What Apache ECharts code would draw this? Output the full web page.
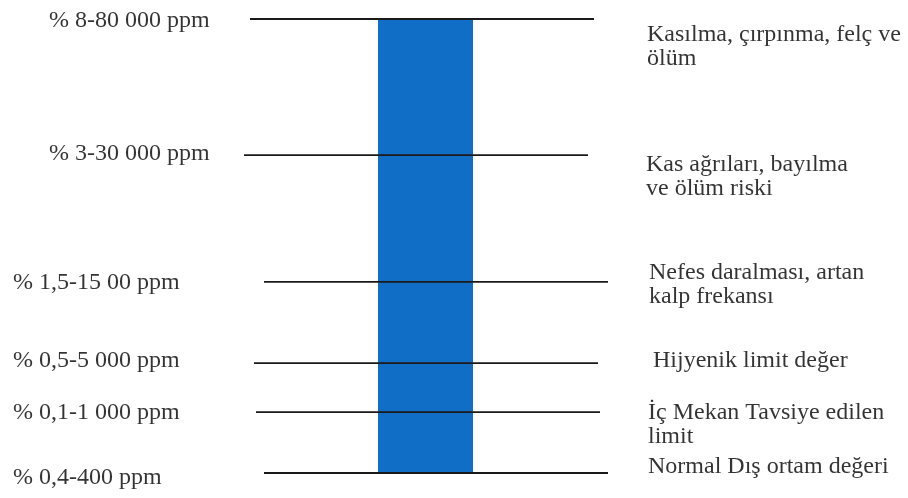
<!DOCTYPE html>
<html>
<head>
<meta charset="utf-8">
<script src="https://cdn.jsdelivr.net/npm/echarts@6/dist/echarts.min.js"></script>
<style>
  html, body { margin: 0; padding: 0; background: #fff; }
  #chart { width: 908px; height: 498px; }
</style>
</head>
<body>
<div id="chart"></div>
<script>
// seviyeler (alttan üste), şematik konum 0-100
var levels = [0, 13.4, 24.2, 42.1, 70, 100];
var ppmLabels = [
  "% 0,4-400 ppm",
  "% 0,1-1 000 ppm",
  "% 0,5-5 000 ppm",
  "% 1,5-15 00 ppm",
  "% 3-30 000 ppm",
  "% 8-80 000 ppm"
];
var effectLabels = [
  "Normal Dış ortam değeri",
  "İç Mekan Tavsiye edilen\nlimit",
  "Hijyenik limit değer",
  "Nefes daralması, artan\nkalp frekansı",
  "Kas ağrıları, bayılma\nve ölüm riski",
  "Kasılma, çırpınma, felç ve\nölüm"
];
var barCategory = ["CO2"];
var barValue = [100];

// yerleşim (piksel), veri değil
var lineSpans = [[264, 608], [256, 600], [254, 598], [264, 608], [244, 588], [250, 594]];
var leftX = [13, 13, 13, 13, 49, 49];
var leftDy = [5, 1, -2, 1, -1, 2];
var rightX = [648, 648, 653, 649, 646, 647];
var rightDy = [-6, 13, -2, 3, 22, 28];

var font = "'Liberation Serif', 'Times New Roman', serif";
var chart = echarts.init(document.getElementById("chart"));

var series = [];
levels.forEach(function (lv, i) {
  series.push({
    type: "line",
    xAxisIndex: 0,
    yAxisIndex: 0,
    symbol: "none",
    silent: true,
    z: 5,
    lineStyle: { color: "#1a1a1a", width: 1.8 },
    data: [[lineSpans[i][0], lv], [lineSpans[i][1], lv]]
  });
});

// sol etiketler
series.push({
  type: "scatter",
  xAxisIndex: 0,
  yAxisIndex: 0,
  symbolSize: 0,
  z: 6,
  data: levels.map(function (lv, i) {
    return {
      value: [leftX[i], lv],
      label: { offset: [0, leftDy[i]] }
    };
  }),
  label: {
    show: true,
    position: "inside",
    align: "left",
    verticalAlign: "middle",
    color: "#000",
    fontFamily: font,
    fontSize: 24,
    formatter: function (p) { return ppmLabels[p.dataIndex]; }
  }
});

// sağ etiketler
series.push({
  type: "scatter",
  xAxisIndex: 0,
  yAxisIndex: 0,
  symbolSize: 0,
  z: 6,
  data: levels.map(function (lv, i) {
    return {
      value: [rightX[i], lv],
      label: { offset: [0, rightDy[i]] }
    };
  }),
  label: {
    show: true,
    position: "inside",
    align: "left",
    verticalAlign: "middle",
    color: "#000",
    fontFamily: font,
    fontSize: 24,
    lineHeight: 24,
    formatter: function (p) { return effectLabels[p.dataIndex]; }
  }
});

// mavi sütun
series.push({
  type: "bar",
  xAxisIndex: 1,
  yAxisIndex: 1,
  barWidth: "100%",
  silent: true,
  z: 2,
  itemStyle: { color: "#106ec7" },
  data: barValue
});

var option = {
  animation: false,
  grid: [
    { left: 0, right: 0, top: 19, bottom: 25 },
    { left: 378, width: 95, top: 19, bottom: 25 }
  ],
  xAxis: [
    { type: "value", gridIndex: 0, min: 0, max: 908, show: false },
    { type: "category", gridIndex: 1, data: barCategory, show: false }
  ],
  yAxis: [
    { type: "value", gridIndex: 0, min: 0, max: 100, show: false },
    { type: "value", gridIndex: 1, min: 0, max: 100, show: false }
  ],
  series: series
};

chart.setOption(option);
</script>
</body>
</html>
